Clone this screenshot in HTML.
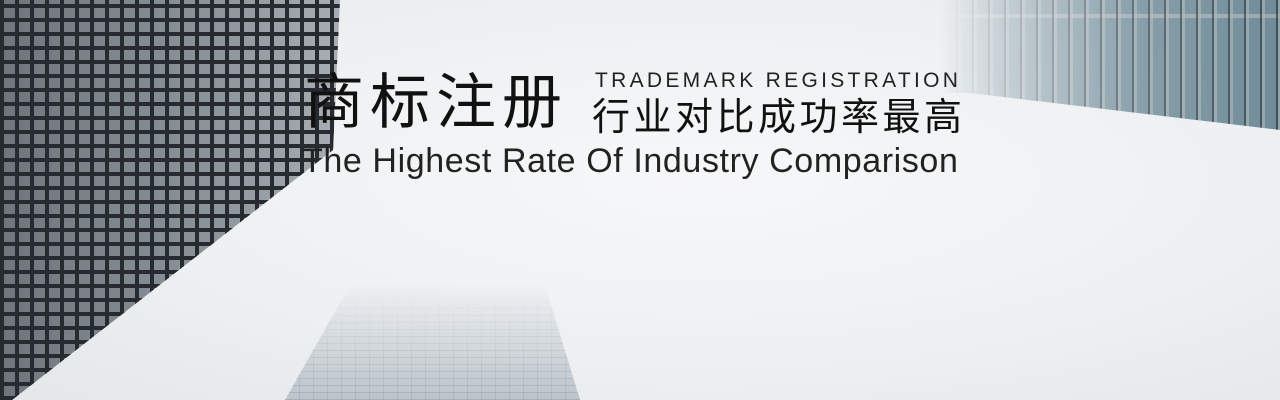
<!DOCTYPE html>
<html><head><meta charset="utf-8"><style>
html,body{margin:0;padding:0}
body{width:1280px;height:400px;overflow:hidden;position:relative;
background:radial-gradient(ellipse at 55% 45%,#f6f7f8 0%,#eef0f2 55%,#e4e7e9 100%);}
.bld{position:absolute}
#left{left:0;top:0;width:350px;height:400px;
clip-path:polygon(0 0,340px 0,333px 150px,12px 400px,0 400px);
background:
repeating-linear-gradient(90deg,#272b30 0 4px,transparent 4px 15px),
repeating-linear-gradient(0deg,#272b30 0 4px,transparent 4px 14px),
linear-gradient(90deg,#6e757c,#8c949b 60%,#a9b0b6);}
#right{left:940px;top:0;width:340px;height:135px;
clip-path:polygon(0 0,340px 0,340px 130px,30px 93px,0 93px);
background:
repeating-linear-gradient(90deg,rgba(40,55,65,.7) 0 2px,rgba(170,180,185,.6) 2px 5px,transparent 5px 16px),
linear-gradient(0deg,rgba(200,205,208,.6) 0 3px,transparent 3px),
linear-gradient(180deg,transparent 0 14px,rgba(170,180,185,.7) 14px 18px,transparent 18px),
#6f8b97;
-webkit-mask-image:linear-gradient(90deg,transparent 0,rgba(0,0,0,.3) 60px,rgba(0,0,0,.8) 200px,#000 340px);
mask-image:linear-gradient(90deg,transparent 0,rgba(0,0,0,.3) 60px,rgba(0,0,0,.8) 200px,#000 340px);}
#mid{left:285px;top:285px;width:295px;height:115px;
clip-path:polygon(65px 0,260px 0,295px 115px,0 115px);
background:
repeating-linear-gradient(0deg,rgba(120,135,145,.35) 0 1px,transparent 1px 7px),
repeating-linear-gradient(90deg,rgba(120,135,145,.25) 0 1px,transparent 1px 14px),
#bcc4ca;
-webkit-mask-image:linear-gradient(180deg,transparent 0,rgba(0,0,0,.5) 50%,#000);
mask-image:linear-gradient(180deg,transparent 0,rgba(0,0,0,.5) 50%,#000);}
.t{position:absolute;color:#111;white-space:nowrap;line-height:1}
#cn{left:304px;top:54px;font:60px "Noto Sans CJK SC","WenQuanYi Zen Hei",sans-serif;letter-spacing:6px}
#en1{left:595px;top:69px;font:21px "Liberation Sans",sans-serif;letter-spacing:3.3px;color:#222}
#cn2{left:592px;top:86px;font:38px "Noto Sans CJK SC","WenQuanYi Zen Hei",sans-serif;letter-spacing:3.5px}
#en2{left:302px;top:142px;font:34px "Liberation Sans",sans-serif;color:#222;letter-spacing:0.6px}
</style></head><body>
<div class="bld" id="left"></div>
<div class="bld" id="right"></div>
<div class="bld" id="mid"></div>
<div class="t" id="cn">商标注册</div>
<div class="t" id="en1">TRADEMARK REGISTRATION</div>
<div class="t" id="cn2">行业对比成功率最高</div>
<div class="t" id="en2">The Highest Rate Of Industry Comparison</div>
</body></html>
